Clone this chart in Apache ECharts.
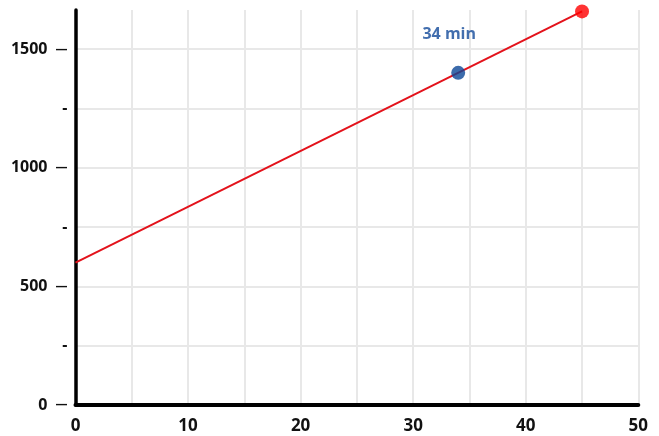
<!DOCTYPE html>
<html>
<head>
<meta charset="utf-8">
<script src="https://cdn.jsdelivr.net/npm/echarts@6/dist/echarts.min.js"></script>
<style>html,body{margin:0;padding:0;background:#fff}#c{width:659px;height:436px}</style>
</head>
<body>
<div id="c"></div>
<script>
// Data
const lineData = [[0, 600], [45, 1659]];
const endPoint = [[45, 1659]];
const markPoint = [[34, 1400]];
const markLabel = '34 min';
const xTicks = [0, 10, 20, 30, 40, 50];
const yTicks = [0, 500, 1000, 1500];
const Y_MAX = 1665;

const FONT = 'Open Sans';
const GRID = '#e8e8e8';
const NONE = 'rgba(0,0,0,0)';
const chart = echarts.init(document.getElementById('c'), null, {renderer: 'canvas'});
const splitColors = [NONE, GRID, GRID, GRID, GRID, GRID, GRID, NONE];
chart.setOption({
  animation: false,
  grid: {left: 75.5, right: 20.7, top: 10, bottom: 31},
  xAxis: {
    type: 'value', min: 0, max: 50, interval: 5, z: 2,
    axisLine: {lineStyle: {color: '#000', width: 4}},
    axisTick: {show: false},
    splitLine: {show: true, lineStyle: {color: GRID, width: 2}},
    axisLabel: {
      margin: 13, color: '#111', fontFamily: FONT, fontWeight: 'bold', fontSize: 17,
      formatter: v => xTicks.includes(v) ? String(v) : ''
    }
  },
  yAxis: {
    type: 'value', min: 0, max: Y_MAX, interval: 250, z: 3,
    axisLine: {show: true, lineStyle: {color: '#000', width: 3.5}},
    axisTick: {show: false},
    splitLine: {show: true, lineStyle: {color: splitColors, width: 2}},
    axisLabel: {
      margin: 8, color: '#111', fontFamily: FONT, fontWeight: 'bold', fontSize: 16,
      showMaxLabel: false,
      formatter: v => {
        if (v % 250 !== 0) return '';
        if (yTicks.includes(v)) return v + '{d|—}';
        return '-';
      },
      rich: {d: {fontFamily: FONT, fontSize: 12, fontWeight: 'bold', color: '#111', padding: [0, 0, 0, 8]}}
    }
  },
  series: [
    {
      type: 'line', data: lineData,
      symbol: 'none', lineStyle: {color: '#e3121b', width: 2}, z: 4
    },
    {
      type: 'scatter', data: endPoint,
      symbolSize: 14, itemStyle: {color: '#ff0000'}, z: 5
    },
    {
      type: 'scatter', data: markPoint,
      symbolSize: 14, itemStyle: {color: '#0b4696'}, z: 5,
      label: {
        show: true, position: 'top', distance: 23, offset: [-9, 0],
        formatter: markLabel, color: '#134a9a', fontFamily: FONT, fontWeight: 'bold', fontSize: 16
      }
    }
  ]
});
</script>
</body>
</html>
